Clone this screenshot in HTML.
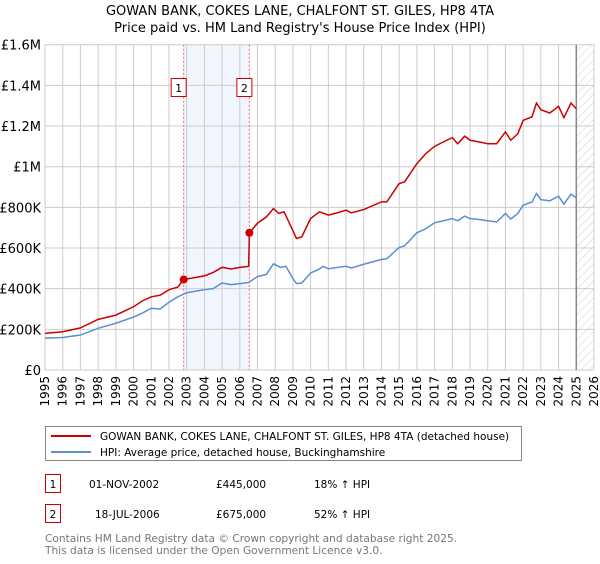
<!DOCTYPE html>
<html><head><meta charset="utf-8"><style>
body{margin:0;background:#fff;font-family:"DejaVu Sans","Liberation Sans",sans-serif;}
svg text{font-family:"DejaVu Sans","Liberation Sans",sans-serif;}
</style></head><body>
<svg id="chart" width="600" height="560" viewBox="0 0 600 560" xmlns="http://www.w3.org/2000/svg">
<defs><pattern id="hatch" width="6" height="6" patternUnits="userSpaceOnUse" patternTransform="rotate(45)"><line x1="0" y1="0" x2="0" y2="6" stroke="#ccc" stroke-width="1"/></pattern></defs>
<text x="300" y="15" text-anchor="middle" font-size="13">GOWAN BANK, COKES LANE, CHALFONT ST. GILES, HP8 4TA</text>
<text x="300" y="32" text-anchor="middle" font-size="13">Price paid vs. HM Land Registry's House Price Index (HPI)</text>
<g id="grid"></g><g id="marks"></g><g id="axes"></g>
<rect x="45.5" y="426.5" width="476" height="34" fill="#fff" stroke="#888"/>
<line x1="51" y1="436" x2="91" y2="436" stroke="#cc0000" stroke-width="2"/>
<text x="100" y="440" font-size="10.5">GOWAN BANK, COKES LANE, CHALFONT ST. GILES, HP8 4TA (detached house)</text>
<line x1="51" y1="452" x2="91" y2="452" stroke="#5b8fd0" stroke-width="2"/>
<text x="100" y="456" font-size="10.5">HPI: Average price, detached house, Buckinghamshire</text>
<g font-size="10.5">
<rect x="45.5" y="474.5" width="15" height="18" fill="#fff" stroke="#cc0000"/><text x="53" y="488" text-anchor="middle">1</text>
<text x="89" y="488">01-NOV-2002</text><text x="216" y="488">£445,000</text><text x="314" y="488">18% ↑ HPI</text></g>
<g font-size="10.5">
<rect x="45.5" y="504.5" width="15" height="18" fill="#fff" stroke="#cc0000"/><text x="53" y="518" text-anchor="middle">2</text>
<text x="95" y="518">18-JUL-2006</text><text x="216" y="518">£675,000</text><text x="314" y="518">52% ↑ HPI</text></g>
<text x="45" y="542" font-size="10.6" fill="#777">Contains HM Land Registry data © Crown copyright and database right 2025.</text>
<text x="45" y="554" font-size="10.6" fill="#777">This data is licensed under the Open Government Licence v3.0.</text>
</svg>
<script>
const hpiYears=[1995,1996,1997,1998,1999,2000,2000.5,2001,2001.5,2002,2002.5,2003,2004,2004.5,2005,2005.5,2006,2006.5,2007,2007.5,2007.9,2008.3,2008.6,2009,2009.2,2009.5,2010,2010.5,2010.7,2011,2012,2012.3,2013,2014,2014.3,2015,2015.3,2016,2016.5,2017,2017.5,2018,2018.3,2018.7,2019,2019.5,2020,2020.5,2021,2021.3,2021.7,2022,2022.5,2022.75,2023,2023.5,2024,2024.3,2024.7,2025];
const hpiValues=[157,160,172,205,230,260,280,303,300,333,360,380,395,400,428,420,425,430,460,470,522,505,510,450,425,428,477,497,510,498,510,502,520,544,547,603,610,675,695,724,734,745,734,757,745,740,734,728,770,742,770,811,826,868,838,832,855,816,865,847];
const priceYears=[1995,1996,1997,1998,1999,2000,2000.5,2001,2001.5,2002,2002.5,2002.83,2003.5,2004,2004.5,2005,2005.5,2006,2006.5,2006.54,2007,2007.5,2007.9,2008.2,2008.5,2008.8,2009.2,2009.5,2010,2010.5,2011,2011.5,2012,2012.3,2013,2014,2014.3,2015,2015.3,2016,2016.5,2017,2017.5,2018,2018.3,2018.7,2019,2019.5,2020,2020.5,2021,2021.3,2021.7,2022,2022.5,2022.75,2023,2023.5,2024,2024.3,2024.7,2025];
const priceValues=[180,188,207,249,270,311,340,360,368,395,408,445,455,463,480,505,497,505,510,675,722,753,794,770,778,722,647,655,745,778,762,773,786,773,789,827,827,917,925,1015,1064,1100,1122,1143,1113,1150,1130,1122,1113,1113,1171,1130,1162,1228,1245,1313,1280,1264,1297,1241,1313,1285];
const saleYears=[2002.83,2006.54];
const saleValues=[445,675];
const saleLabels=["1","2"];
const xTicks=[1995,1996,1997,1998,1999,2000,2001,2002,2003,2004,2005,2006,2007,2008,2009,2010,2011,2012,2013,2014,2015,2016,2017,2018,2019,2020,2021,2022,2023,2024,2025,2026];
const yTicks=[0,200,400,600,800,1000,1200,1400,1600];
const yTickLabels=["£0","£200K","£400K","£600K","£800K","£1M","£1.2M","£1.4M","£1.6M"];
const X0=45,X1=594,Y0=370,Y1=44.7;
const x=v=>X0+(v-1995)/(2026-1995)*(X1-X0);
const y=v=>Y0-v/1600*(Y0-Y1);
const NS="http://www.w3.org/2000/svg";
function mk(tag,attrs,parent){const e=document.createElementNS(NS,tag);for(const k in attrs)e.setAttribute(k,attrs[k]);parent.appendChild(e);return e;}
const grid=document.getElementById('grid'),marks=document.getElementById('marks'),axes=document.getElementById('axes');
const shade=mk('rect',{x:x(saleYears[0]),y:Y1,width:x(saleYears[1])-x(saleYears[0]),height:Y0-Y1,fill:'#eef3fc',opacity:0.8},grid);


xTicks.forEach(t=>{
  const l=mk('line',{x1:x(t),x2:x(t),y1:Y1,y2:Y0,stroke:'#ccc'},grid);
  
  
  const tx=mk('text',{x:0,y:0,'font-size':12,'text-anchor':'end',transform:`translate(${x(t)+4},${Y0+6}) rotate(-90)`},axes);
  tx.textContent=t;
  
  
});
yTicks.forEach((t,i)=>{
  const l=mk('line',{x1:X0,x2:X1,y1:y(t),y2:y(t),stroke:'#ccc'},grid);
  
  
  const tx=mk('text',{x:X0-4,y:y(t)+5,'font-size':13,'text-anchor':'end'},axes);
  tx.textContent=yTickLabels[i];
  
  
});
const hat=mk('rect',{x:x(2025),y:Y1,width:X1-x(2025),height:Y0-Y1,fill:'url(#hatch)'},grid);


const fl=mk('line',{x1:x(2025),x2:x(2025),y1:Y1,y2:Y0,stroke:'#888','stroke-width':1.5},grid);


saleYears.forEach((s,i)=>{
  const l=mk('line',{x1:x(s),x2:x(s),y1:Y1,y2:Y0,stroke:'#e66','stroke-dasharray':'2,2'},grid);
  
  
  const b=mk('rect',{x:x(s)-12.5,y:78.5,width:15,height:18,fill:'#fff',stroke:'#cc0000'},marks);
  
  
  const t=mk('text',{x:x(s)-5,y:92,'font-size':11,'text-anchor':'middle'},marks);
  t.textContent=saleLabels[i];
  
  
});
const pHpi=mk('polyline',{points:hpiYears.map((d,i)=>x(d)+','+y(hpiValues[i])).join(' '),fill:'none',stroke:'#5b8fd0','stroke-width':1.5},marks);


const pP=mk('polyline',{points:priceYears.map((d,i)=>x(d)+','+y(priceValues[i])).join(' '),fill:'none',stroke:'#cc0000','stroke-width':1.5},marks);


saleYears.forEach((s,i)=>{
  const c=mk('circle',{cx:x(s),cy:y(saleValues[i]),r:4,fill:'#cc0000'},marks);
  
  
});
</script>
</body></html>
